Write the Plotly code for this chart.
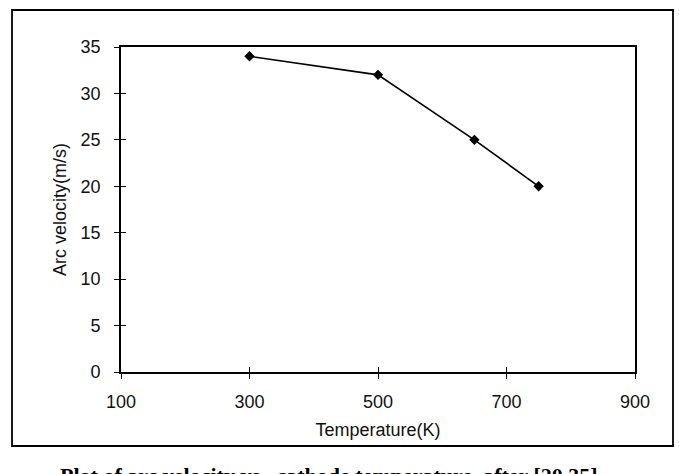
import plotly.graph_objects as go

temperature = [300, 500, 650, 750]
arc_velocity = [34, 32, 25, 20]
x_ticks = [100, 300, 500, 700, 900]
y_ticks = [0, 5, 10, 15, 20, 25, 30, 35]
x_title = "Temperature(K)"
y_title = "Arc velocity(m/s)"
caption = "Plot of arc velocity vs.  cathode temperature, after [20,35]"

W, H = 679, 474
L, R, T, B = 121, 44, 47, 102
pw, ph = W - L - R, H - T - B

def px_x(p):
    return (p - L) / pw

def px_y(p):
    return (H - B - p) / ph

fig = go.Figure()
fig.add_trace(go.Scatter(
    x=temperature, y=arc_velocity, mode="lines+markers",
    line=dict(color="black", width=1.6),
    marker=dict(symbol="diamond", size=8, color="black"),
    showlegend=False, cliponaxis=False,
))
# invisible trace so the overlay axes (inner halves of cross ticks) are drawn
fig.add_trace(go.Scatter(x=[x_ticks[0]], y=[y_ticks[0]], xaxis="x2", yaxis="y2",
                         mode="markers", marker=dict(opacity=0), showlegend=False,
                         hoverinfo="skip"))

tickfont = dict(family="Liberation Sans, Arial", size=18, color="#111")
axis_common = dict(showgrid=False, zeroline=False, showline=True, linecolor="black",
                   linewidth=1.8, ticks="outside", ticklen=5, tickwidth=1.4,
                   tickcolor="black", tickfont=tickfont)

fig.update_layout(
    width=W, height=H,
    margin=dict(l=L, r=R, t=T, b=B, pad=0),
    paper_bgcolor="white", plot_bgcolor="white",
    xaxis=dict(range=[100, 900], tickvals=x_ticks, mirror=True,
               ticklabelstandoff=7,
               title=dict(text=x_title, font=tickfont, standoff=13),
               **axis_common),
    yaxis=dict(range=[0, 35], tickvals=y_ticks, mirror=True,
               ticklabelstandoff=10,
               title=dict(text=y_title, font=tickfont, standoff=9),
               **axis_common),
    xaxis2=dict(overlaying="x", matches="x", range=[100, 900], tickvals=x_ticks,
                showticklabels=False, showgrid=False, zeroline=False,
                showline=False, ticks="inside", ticklen=5, tickwidth=1.4,
                tickcolor="black", anchor="y2", side="bottom"),
    yaxis2=dict(overlaying="y", matches="y", range=[0, 35], tickvals=y_ticks,
                showticklabels=False, showgrid=False, zeroline=False,
                showline=False, ticks="inside", ticklen=5, tickwidth=1.4,
                tickcolor="black", anchor="x2", side="left"),
)

# outer frame around the chart
fig.add_shape(type="rect", xref="paper", yref="paper",
              x0=px_x(12), x1=px_x(673), y0=px_y(446), y1=px_y(10),
              line=dict(color="black", width=1.8), fillcolor="rgba(0,0,0,0)")

fig.add_annotation(text="<b>" + caption + "</b>", xref="paper", yref="paper",
                   x=px_x(328.5), y=px_y(461), xanchor="center", yanchor="top",
                   showarrow=False,
                   font=dict(family="Liberation Serif, Times New Roman", size=22,
                             color="black"))

fig.write_html("out.html")
